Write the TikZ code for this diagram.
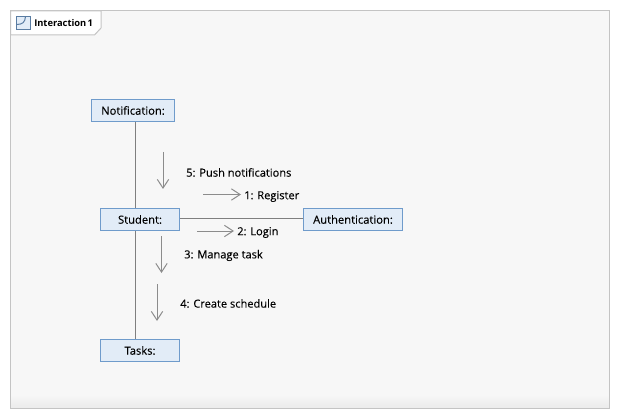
\documentclass[tikz,border=0pt]{standalone}
\usepackage{fontspec}
\setmainfont{Open Sans}
\newfontfamily\labfont[FakeBold=0.15]{Open Sans}
\usetikzlibrary{arrows.meta,shadings}
\definecolor{boxfill}{HTML}{E2ECF7}
\definecolor{boxline}{HTML}{6F9BCB}
\definecolor{lifeline}{HTML}{7F7F7F}
\definecolor{msgline}{HTML}{8C8C8C}
\definecolor{framefill}{HTML}{F7F7F7}
\definecolor{frameline}{HTML}{C4C4C4}
\tikzset{
  objbox/.style={draw=boxline,fill=boxfill,line width=0.75pt,inner sep=0pt,minimum height=17pt,text=black,font=\labfont\fontsize{8.4pt}{10pt}\selectfont},
  link/.style={draw=lifeline,line width=0.75pt},
  msg/.style={draw=msgline,line width=0.75pt,-{Straight Barb[length=6.5pt,width=8.5pt,line width=0.75pt]}},
  msglabel/.style={anchor=west,inner sep=0pt,text=black,font=\labfont\fontsize{8.3pt}{10pt}\selectfont}
}
\begin{document}
\begin{tikzpicture}[x=0.75pt,y=-0.75pt]
\useasboundingbox (0,0) rectangle (620,420);
\fill[white] (0,0) rectangle (620,420);
\fill[framefill] (10.5,11) rectangle (609,396);
\shade[top color=framefill,bottom color=black!8] (10.5,395) rectangle (609,408);
\draw[frameline,line width=0.75pt] (10.5,11) rectangle (609,408);
\draw[frameline,line width=0.75pt,fill=white] (10.5,11) -- (101,11) -- (101,28) -- (94.5,35) -- (10.5,35) -- cycle;
\draw[boxline!80!black,fill=boxfill,line width=0.75pt] (16.5,16.5) rectangle (30.5,29.5);
\draw[boxline!80!black,line width=0.75pt] (16.5,24.5) .. controls (23,24.5) and (25,22) .. (25.5,16.5);
\node[anchor=west,inner sep=0pt,font=\fontsize{7pt}{10pt}\selectfont\bfseries,text=black] (title) at (34,23.5) {Interaction\hspace{1pt}1};

\node[objbox,minimum width=62.5pt] (notif) at (133,110.5) {Notification:};
\node[objbox,minimum width=59.5pt] (student) at (140,219.5) {Student:};
\node[objbox,minimum width=74.5pt] (auth) at (353,219.5) {Authentication:};
\node[objbox,minimum width=59.5pt] (tasks) at (140,350.5) {Tasks:};

\coordinate (lx) at (135.5,0);
\coordinate (ly) at (0,218.3);
\draw[link] (notif.south -| lx) -- (student.north -| lx);
\draw[link] (student.south -| lx) -- (tasks.north -| lx);
\draw[link] (student.east |- ly) -- (auth.west |- ly);

\coordinate (m5a) at (163,152); \coordinate (m5b) at (163,189);
\coordinate (m1a) at (203,194.5); \coordinate (m1b) at (241,194.5);
\coordinate (m2a) at (197,231); \coordinate (m2b) at (234,231);
\coordinate (m3a) at (161.5,236); \coordinate (m3b) at (161.5,273);
\coordinate (m4a) at (157,284); \coordinate (m4b) at (157,321);
\draw[msg] (m5a) -- (m5b);
\draw[msg] (m1a) -- (m1b);
\draw[msg] (m2a) -- (m2b);
\draw[msg] (m3a) -- (m3b);
\draw[msg] (m4a) -- (m4b);

\node[msglabel] (l5) at (186,172.5) {5: Push notifications};
\node[msglabel] (l1) at (244,196.5) {1: Register};
\node[msglabel] (l2) at (237,232.5) {2: Login};
\node[msglabel] (l3) at (184,255.5) {3: Manage task};
\node[msglabel] (l4) at (180,303.5) {4: Create schedule};
\end{tikzpicture}
\end{document}
